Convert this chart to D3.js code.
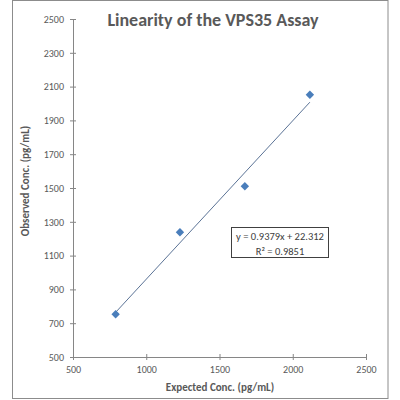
<!DOCTYPE html>
<html>
<head>
<meta charset="utf-8">
<script src="https://cdn.jsdelivr.net/npm/d3@7"></script>
<style>
  html, body { margin: 0; padding: 0; background: #fff; }
  svg { display: block; font-family: Carlito, Calibri, Lato, sans-serif; }
</style>
</head>
<body>
<div id="chart"></div>
<script>
const expected = [791, 1230, 1673, 2117]
const observed = [753, 1238, 1510, 2052]
const xTicks = [500, 1000, 1500, 2000, 2500]
const yTicks = [500, 700, 900, 1100, 1300, 1500, 1700, 1900, 2100, 2300, 2500]
const slope = 0.9379
const intercept = 22.312
const eqLines = ["y = 0.9379x + 22.312", "R² = 0.9851"]

const width = 400
const height = 400

const svg = d3.select("#chart")
  .append("svg")
  .attr("width", width)
  .attr("height", height)

svg.append("rect")
  .attr("x", 12.5)
  .attr("y", 0.5)
  .attr("width", 375.5)
  .attr("height", 398)
  .attr("fill", "#fff")
  .attr("stroke", "#8c8c8c")

const x = d3.scaleLinear().domain([500, 2500]).range([73, 366])
const y = d3.scaleLinear().domain([500, 2500]).range([357, 19])

// axes
const yAxis = svg.append("g")
  .attr("transform", `translate(${x(500)},0)`)
  .call(d3.axisLeft(y).tickValues(yTicks).tickFormat(d3.format("d")).tickSize(3).tickPadding(6))
yAxis.select(".domain").attr("stroke", "#868686")
yAxis.selectAll(".tick line").attr("x1", 3).attr("stroke", "#868686")
yAxis.selectAll(".tick text")
  .attr("fill", "#595959")
  .attr("font-size", "10px")
  .attr("font-family", "Carlito, Calibri, Lato, sans-serif")

const xAxis = svg.append("g")
  .attr("transform", `translate(0,${y(500)})`)
  .call(d3.axisBottom(x).tickValues(xTicks).tickFormat(d3.format("d")).tickSize(3).tickPadding(6))
xAxis.select(".domain").attr("stroke", "#868686")
xAxis.selectAll(".tick line").attr("y1", -3).attr("stroke", "#868686")
xAxis.selectAll(".tick text")
  .attr("fill", "#595959")
  .attr("font-size", "10px")
  .attr("font-family", "Carlito, Calibri, Lato, sans-serif")

// trendline
const xMin = d3.min(expected)
const xMax = d3.max(expected)
svg.append("line")
  .attr("x1", x(xMin))
  .attr("y1", y(slope * xMin + intercept))
  .attr("x2", x(xMax))
  .attr("y2", y(slope * xMax + intercept))
  .attr("stroke", "#5b7396")
  .attr("stroke-width", 1)

// points
svg.append("g")
  .selectAll("path")
  .data(expected.map((d, i) => [d, observed[i]]))
  .enter()
  .append("path")
  .attr("d", d3.symbol().type(d3.symbolDiamond2).size(45))
  .attr("transform", (d) => `translate(${x(d[0])},${y(d[1])})`)
  .attr("fill", "#4a7ebb")

// equation label
svg.append("rect")
  .attr("x", 231.5)
  .attr("y", 227.5)
  .attr("width", 97)
  .attr("height", 30)
  .attr("fill", "#fff")
  .attr("stroke", "#404040")

svg.append("g")
  .selectAll("text")
  .data(eqLines)
  .enter()
  .append("text")
  .attr("x", 280)
  .attr("y", (d, i) => 239.5 + i * 15)
  .attr("text-anchor", "middle")
  .attr("font-size", "10.5px")
  .attr("fill", "#404040")
  .text((d) => d)

// title and axis labels
svg.append("text")
  .attr("x", 213)
  .attr("y", 26)
  .attr("text-anchor", "middle")
  .attr("font-size", "18px")
  .attr("font-weight", "bold")
  .attr("fill", "#595959")
  .text("Linearity of the VPS35 Assay")

svg.append("text")
  .attr("x", 220)
  .attr("y", 391)
  .attr("text-anchor", "middle")
  .attr("font-size", "11px")
  .attr("font-weight", "bold")
  .attr("fill", "#595959")
  .text("Expected Conc. (pg/mL)")

svg.append("text")
  .attr("transform", "translate(29,181) rotate(-90)")
  .attr("text-anchor", "middle")
  .attr("font-size", "11px")
  .attr("font-weight", "bold")
  .attr("fill", "#595959")
  .text("Observed Conc. (pg/mL)")
</script>
</body>
</html>
